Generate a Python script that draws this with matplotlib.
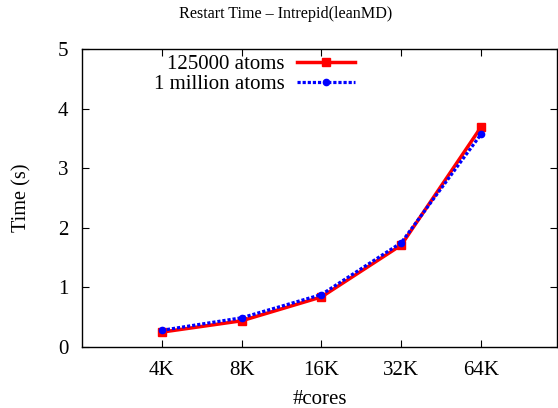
import matplotlib
matplotlib.use('Agg')
import matplotlib.pyplot as plt

cores = ['4K', '8K', '16K', '32K', '64K']
atoms_125k = [0.25, 0.44, 0.84, 1.71, 3.69]
atoms_1m = [0.28, 0.49, 0.88, 1.75, 3.57]

plt.rcParams['font.family'] = ['Liberation Serif', 'DejaVu Serif']

fig = plt.figure(figsize=(5.58, 4.08), dpi=100)
ax = fig.add_axes([0.147, 0.1495, 0.851, 0.7305])

x = list(range(1, len(cores) + 1))
ax.plot(x, atoms_125k, color='red', lw=2.5, marker='s', ms=6, label='125000 atoms')
ax.plot(x, atoms_1m, color='blue', lw=2.3, ls=(0, (1, 0.6)), marker='o', ms=4.5,
        label='1 million atoms')

ax.set_xlim(0, 5.95)
ax.set_ylim(0, 5)
ax.set_xticks(x)
ax.set_xticklabels(cores)
ax.set_yticks([0, 1, 2, 3, 4, 5])
ax.tick_params(direction='in', top=True, right=True, labelsize=15, length=5, width=0.8, pad=10)
for s in ax.spines.values():
    s.set_linewidth(1.0)

# title sits left of the axes centre, like the original
ax.set_title('Restart Time \u2013 Intrepid(leanMD)', fontsize=11.6, pad=22, x=0.428)
ax.set_xlabel('#cores', fontsize=15, labelpad=7)
ax.set_ylabel('Time (s)', fontsize=14.6, labelpad=19)

leg = ax.legend(loc='upper left', bbox_to_anchor=(0.133, 1.01), frameon=False, fontsize=15,
                markerfirst=False, handlelength=2.8, handletextpad=0.6, labelspacing=0.02,
                borderaxespad=0.0)

fig.savefig('out.png', dpi=100)
